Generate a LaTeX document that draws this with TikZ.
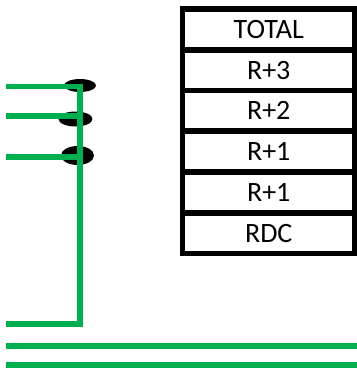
\documentclass[tikz,border=0pt]{standalone}
\usepackage{fontspec}
\setmainfont{Carlito}
\usetikzlibrary{shapes.geometric}
\definecolor{xlgreen}{RGB}{0,176,80}
\begin{document}
\begin{tikzpicture}[x=1pt,y=-1pt,
  wire/.style={xlgreen, line width=5.5pt},
  blob/.style={ellipse, fill=black, inner sep=0pt},
  cell/.style={draw=black, line width=5.5pt, minimum width=172.5pt, minimum height=40.75pt, inner sep=0pt, font=\fontsize{28}{28}\selectfont}]
\useasboundingbox (0,0) rectangle (357,368);
% table
\node[cell] (c1) at (268.75,29.4) {TOTAL};
\node[cell] (c2) at (268.75,70.1) {R+3};
\node[cell] (c3) at (268.75,110.9) {R+2};
\node[cell] (c4) at (268.75,151.6) {R+1};
\node[cell] (c5) at (268.75,192.4) {R+1};
\node[cell] (c6) at (268.75,233.1) {RDC};
% ellipses
\node[blob, minimum width=32pt, minimum height=13pt] (e1) at (80,85.5) {};
\node[blob, minimum width=34pt, minimum height=15pt] (e2) at (75.5,119) {};
\node[blob, minimum width=33pt, minimum height=19pt] (e3) at (77.5,155.5) {};
% coordinates
\coordinate (a1) at (6,86.5);
\coordinate (t) at (80,86.5);
\coordinate (b) at (80,324);
\coordinate (a4) at (6,324);
\coordinate (a2) at (6,116);
\coordinate (m2) at (80,116);
\coordinate (a3) at (6,157);
\coordinate (m3) at (80,157);
\coordinate (l1) at (6,346);
\coordinate (r1) at (357,346);
\coordinate (l2) at (6,365);
\coordinate (r2) at (357,365);
% wires
\draw[wire] (a1) -- (t) -- (b) -- (a4);
\draw[wire] (a2) -- (m2);
\draw[wire] (a3) -- (m3);
\draw[wire] (l1) -- (r1);
\draw[wire] (l2) -- (r2);
\end{tikzpicture}
\end{document}
